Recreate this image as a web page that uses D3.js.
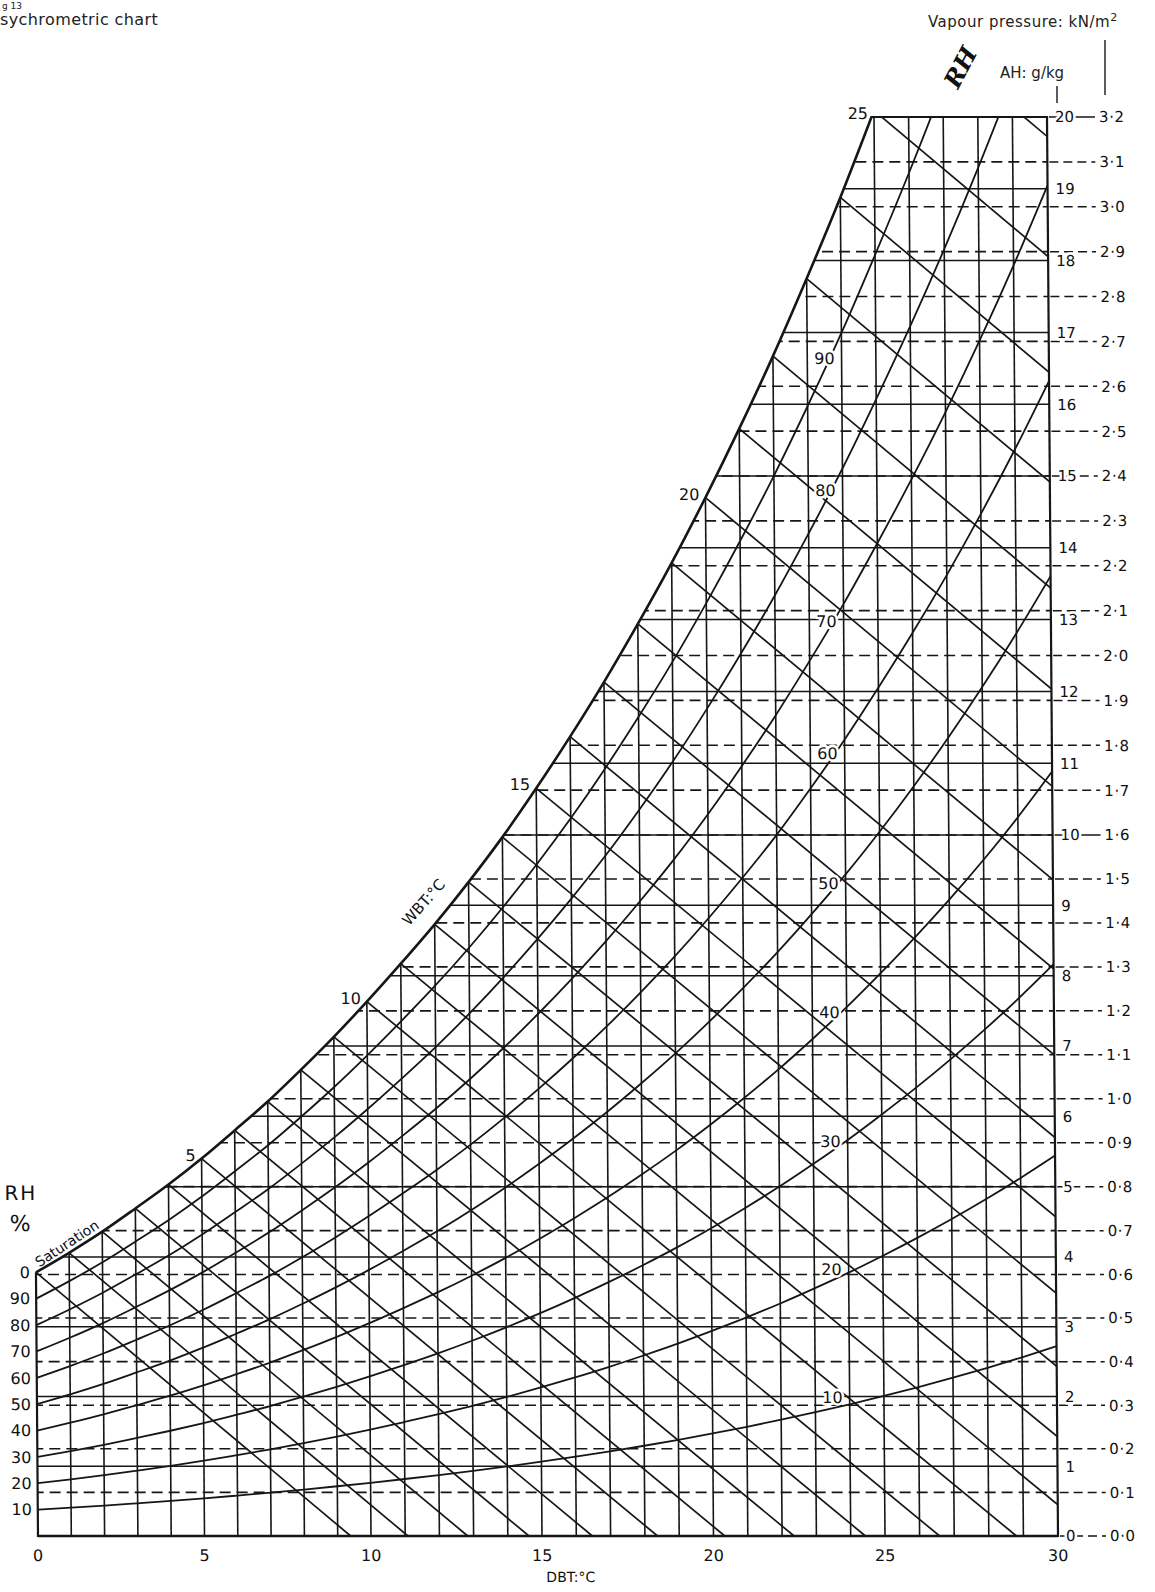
<!DOCTYPE html>
<html><head><meta charset="utf-8">
<script src="https://cdn.jsdelivr.net/npm/d3@7"></script>
<style>
body{margin:0;background:#fff;}
svg{display:block;font-family:"DejaVu Sans","Liberation Sans",Arial,sans-serif;}
</style></head><body>
<svg id="c" width="1155" height="1592"></svg>
<script>
// ---------- data ----------
const dbtLines = [0,1,2,3,4,5,6,7,8,9,10,11,12,13,14,15,16,17,18,19,20,21,22,23,24,25,26,27,28,29,30];
const dbtTickLabels = [0,5,10,15,20,25,30];
// saturation absolute humidity (g/kg) at each dry-bulb degree
const satAH = [3.78,4.06,4.36,4.69,5.03,5.40,5.80,6.21,6.66,7.13,7.63,8.17,8.73,9.33,9.97,10.65,11.37,12.13,12.94,13.79,14.70,15.66,16.67,17.75,18.88,20.09,21.36,22.70,24.12,25.62,27.21];
const rhLevels = [10,20,30,40,50,60,70,80,90];
const rhLeftLabels = ["10","20","30","40","50","60","70","80","90","0"];
const wbtLevels = [0,1,2,3,4,5,6,7,8,9,10,11,12,13,14,15,16,17,18,19,20,21,22,23,24,25,26,27,28,29];
// dry-bulb temperature where each wet-bulb line reaches AH = 0 (extended)
const wbtBaseDBT = [9.39,11.08,12.83,14.62,16.47,18.37,20.33,22.35,24.43,26.58,28.80,31.09,33.47,35.92,38.47,41.11,43.84,46.68,49.63,52.68,55.86,59.17,62.60,66.18,69.90,73.78,77.81,82.02,86.41,90.98];
const wbtLabels = [5,10,15,20,25];
const ahTicks = [0,1,2,3,4,5,6,7,8,9,10,11,12,13,14,15,16,17,18,19,20];
const vpTicks = [0.0,0.1,0.2,0.3,0.4,0.5,0.6,0.7,0.8,0.9,1.0,1.1,1.2,1.3,1.4,1.5,1.6,1.7,1.8,1.9,2.0,2.1,2.2,2.3,2.4,2.5,2.6,2.7,2.8,2.9,3.0,3.1,3.2];
const vpLabels = ["0·0","0·1","0·2","0·3","0·4","0·5","0·6","0·7","0·8","0·9","1·0","1·1","1·2","1·3","1·4","1·5","1·6","1·7","1·8","1·9","2·0","2·1","2·2","2·3","2·4","2·5","2·6","2·7","2·8","2·9","3·0","3·1","3·2"];
const vpPerAH = 0.16; // kN/m2 per g/kg on this chart's scale

// ---------- scales ----------
const xs = d3.scaleLinear().domain([0,10,15,25,30]).range([38,371,542,885,1058]);
const ys = d3.scaleLinear().domain([0,4,10,20]).range([1536,1257,835,117]);
const INK = "#161616";

const svg = d3.select("#c");
svg.append("rect").attr("width",1155).attr("height",1592).attr("fill","#fff");
const defs = svg.append("defs");

// page texts (unskewed)
svg.append("text").attr("x",2).attr("y",9).attr("font-size",9).attr("fill","#222").text("g 13");
svg.append("text").attr("x",0).attr("y",25).attr("font-size",16).attr("letter-spacing",0.4).attr("fill","#222").text("sychrometric chart");
const vp = svg.append("text").attr("x",928).attr("y",27).attr("font-size",15).attr("fill","#222").attr("letter-spacing",0.5);
vp.append("tspan").text("Vapour pressure: kN/m");
vp.append("tspan").attr("dy",-6).attr("font-size",11).text("2");
svg.append("text").attr("x",1000).attr("y",78).attr("font-size",15).attr("fill","#222").text("AH: g/kg");
svg.append("line").attr("x1",1105).attr("x2",1105).attr("y1",40).attr("y2",95).attr("stroke",INK).attr("stroke-width",1.4);
svg.append("line").attr("x1",1057).attr("x2",1057).attr("y1",86).attr("y2",103).attr("stroke",INK).attr("stroke-width",1.4);
svg.append("text").attr("transform","translate(958,90) rotate(-62)").attr("font-size",24).attr("font-weight","bold")
   .attr("font-style","italic").attr("font-family","DejaVu Serif").attr("fill","#111").text("RH");

// chart group with slight scan skew
const g = svg.append("g").attr("transform","translate(0,1536) skewX(0.444) translate(0,-1536)");

const satPts = dbtLines.map((t,i)=>[t, satAH[i]]);
const line = d3.line().x(d=>xs(d[0])).y(d=>ys(d[1])).curve(d3.curveMonotoneX);
const area = d3.area().x(d=>xs(d[0])).y0(ys(0)+6).y1(d=>ys(d[1])).curve(d3.curveMonotoneX);

defs.append("clipPath").attr("id","rectClip").append("rect")
  .attr("x",xs(0)).attr("y",ys(20)-1).attr("width",xs(30)-xs(0)+1).attr("height",ys(0)-ys(20)+2);
defs.append("clipPath").attr("id","satClip").append("path").attr("d",area(satPts));
defs.append("clipPath").attr("id","topClip").append("rect")
  .attr("x",0).attr("y",ys(20)-1).attr("width",1155).attr("height",1592);

const inner = g.append("g").attr("clip-path","url(#rectClip)").append("g").attr("clip-path","url(#satClip)");

// dashed vapour pressure lines
inner.append("g").selectAll("line").data(vpTicks.filter(v=>v>0 && v<3.2)).join("line")
  .attr("x1",xs(0)-5).attr("x2",xs(30)+2)
  .attr("y1",v=>ys(v/vpPerAH)).attr("y2",v=>ys(v/vpPerAH))
  .attr("stroke",INK).attr("stroke-width",1.6).attr("stroke-dasharray","11,6");
// solid AH lines
inner.append("g").selectAll("line").data(ahTicks.filter(a=>a>0 && a<20)).join("line")
  .attr("x1",xs(0)-5).attr("x2",xs(30)+2)
  .attr("y1",a=>ys(a)).attr("y2",a=>ys(a))
  .attr("stroke",INK).attr("stroke-width",1.5);
// vertical DBT lines
inner.append("g").selectAll("line").data(dbtLines.filter(t=>t>0 && t<30)).join("line")
  .attr("x1",t=>xs(t)).attr("x2",t=>xs(t)).attr("y1",ys(0)+2).attr("y2",ys(20)-2)
  .attr("stroke",INK).attr("stroke-width",1.6);
// RH curves
inner.append("g").selectAll("path").data(rhLevels).join("path")
  .attr("d",rh=>line(dbtLines.map((t,i)=>[t, satAH[i]*rh/100])))
  .attr("fill","none").attr("stroke",INK).attr("stroke-width",1.8);
// wet bulb lines
inner.append("g").selectAll("line").data(wbtLevels).join("line")
  .attr("x1",(w,i)=>xs(w)).attr("y1",(w,i)=>ys(satAH[w]))
  .attr("x2",(w,i)=>xs(wbtBaseDBT[i])).attr("y2",ys(0))
  .attr("stroke",INK).attr("stroke-width",1.7);

// top line (AH 20), clipped by saturation only
g.append("g").attr("clip-path","url(#satClip)").append("line")
  .attr("x1",xs(20)).attr("x2",xs(30)).attr("y1",ys(20)).attr("y2",ys(20))
  .attr("stroke",INK).attr("stroke-width",2.2);
// borders
g.append("line").attr("x1",xs(0)).attr("x2",xs(30)).attr("y1",ys(0)).attr("y2",ys(0)).attr("stroke",INK).attr("stroke-width",2.4);
g.append("line").attr("x1",xs(30)).attr("x2",xs(30)).attr("y1",ys(0)+1).attr("y2",ys(20)-1).attr("stroke",INK).attr("stroke-width",2.2);
g.append("line").attr("x1",xs(0)).attr("x2",xs(0)).attr("y1",ys(0)+1).attr("y2",ys(satAH[0])).attr("stroke",INK).attr("stroke-width",2.2);
// saturation curve
g.append("g").attr("clip-path","url(#topClip)").append("path").attr("d",line(satPts))
  .attr("fill","none").attr("stroke",INK).attr("stroke-width",2.6);

// extensions to the vapour pressure scale
g.append("g").selectAll("line").data(vpTicks).join("line")
  .attr("x1",xs(30)+2).attr("x2",1106)
  .attr("y1",v=>ys(v/vpPerAH)).attr("y2",v=>ys(v/vpPerAH))
  .attr("stroke",INK).attr("stroke-width",1.5)
  .attr("stroke-dasharray",v=>(v===1.6||v===3.2)?null:"9,5");

const halo = sel => sel.attr("stroke","#fff").attr("stroke-width",5).attr("paint-order","stroke").attr("stroke-linejoin","round");

// AH labels
g.append("g").selectAll("text").data(ahTicks).join("text")
  .attr("x",xs(30)+8).attr("y",a=>ys(a)).attr("dy","0.36em")
  .attr("font-size",15).attr("fill","#111").text(a=>a).call(halo);
// VP labels
g.append("g").selectAll("text").data(vpTicks).join("text")
  .attr("x",1110).attr("y",v=>ys(v/vpPerAH)).attr("dy","0.36em")
  .attr("font-size",15).attr("letter-spacing",0.6).attr("fill","#111").text((v,i)=>vpLabels[i]).call(halo);

// DBT labels
g.append("g").selectAll("text").data(dbtTickLabels).join("text")
  .attr("x",t=>xs(t)).attr("y",ys(0)+25).attr("text-anchor","middle")
  .attr("font-size",16).attr("fill","#111").text(t=>t);
g.append("text").attr("x",xs(15)+4).attr("y",ys(0)+46)
  .attr("font-size",14).attr("fill","#111").text("DBT:°C");

// WBT labels along saturation curve
g.append("g").selectAll("text").data(wbtLabels).join("text")
  .attr("x",w=>xs(w)-6).attr("y",w=>ys(Math.min(satAH[w],20))+2)
  .attr("text-anchor","end").attr("font-size",16).attr("fill","#111").text(w=>w);
g.append("text").attr("transform",`translate(${xs(11.25)},${ys(8.7)}) rotate(-48)`)
  .attr("font-size",15).attr("fill","#111").text("WBT:°C");
g.append("text").attr("transform",`translate(${xs(0.1)},${ys(3.85)}) rotate(-33)`)
  .attr("font-size",14).attr("fill","#111").text("Saturation");

// RH labels on the curves (inside)
g.append("g").selectAll("text").data(rhLevels).join("text")
  .attr("x",xs(23.5)).attr("y",rh=>ys(satAH[23]*rh/100+ (satAH[24]-satAH[23])*0.5*rh/100)-5)
  .attr("text-anchor","middle").attr("font-size",16).attr("fill","#111").text(rh=>rh).call(halo);

// RH labels at the left edge
g.append("g").selectAll("text").data(rhLeftLabels).join("text")
  .attr("x",xs(0)-6).attr("y",(s,i)=>ys(satAH[0]*(i+1)/10)).attr("dy","0.36em")
  .attr("text-anchor","end").attr("font-size",16).attr("fill","#111").text(s=>s);
g.append("text").attr("x",7).attr("y",1200).attr("font-size",20).attr("letter-spacing",2).attr("fill","#111").text("RH");
g.append("text").attr("x",12).attr("y",1231).attr("font-size",22).attr("fill","#111").text("%");
</script>
</body></html>
